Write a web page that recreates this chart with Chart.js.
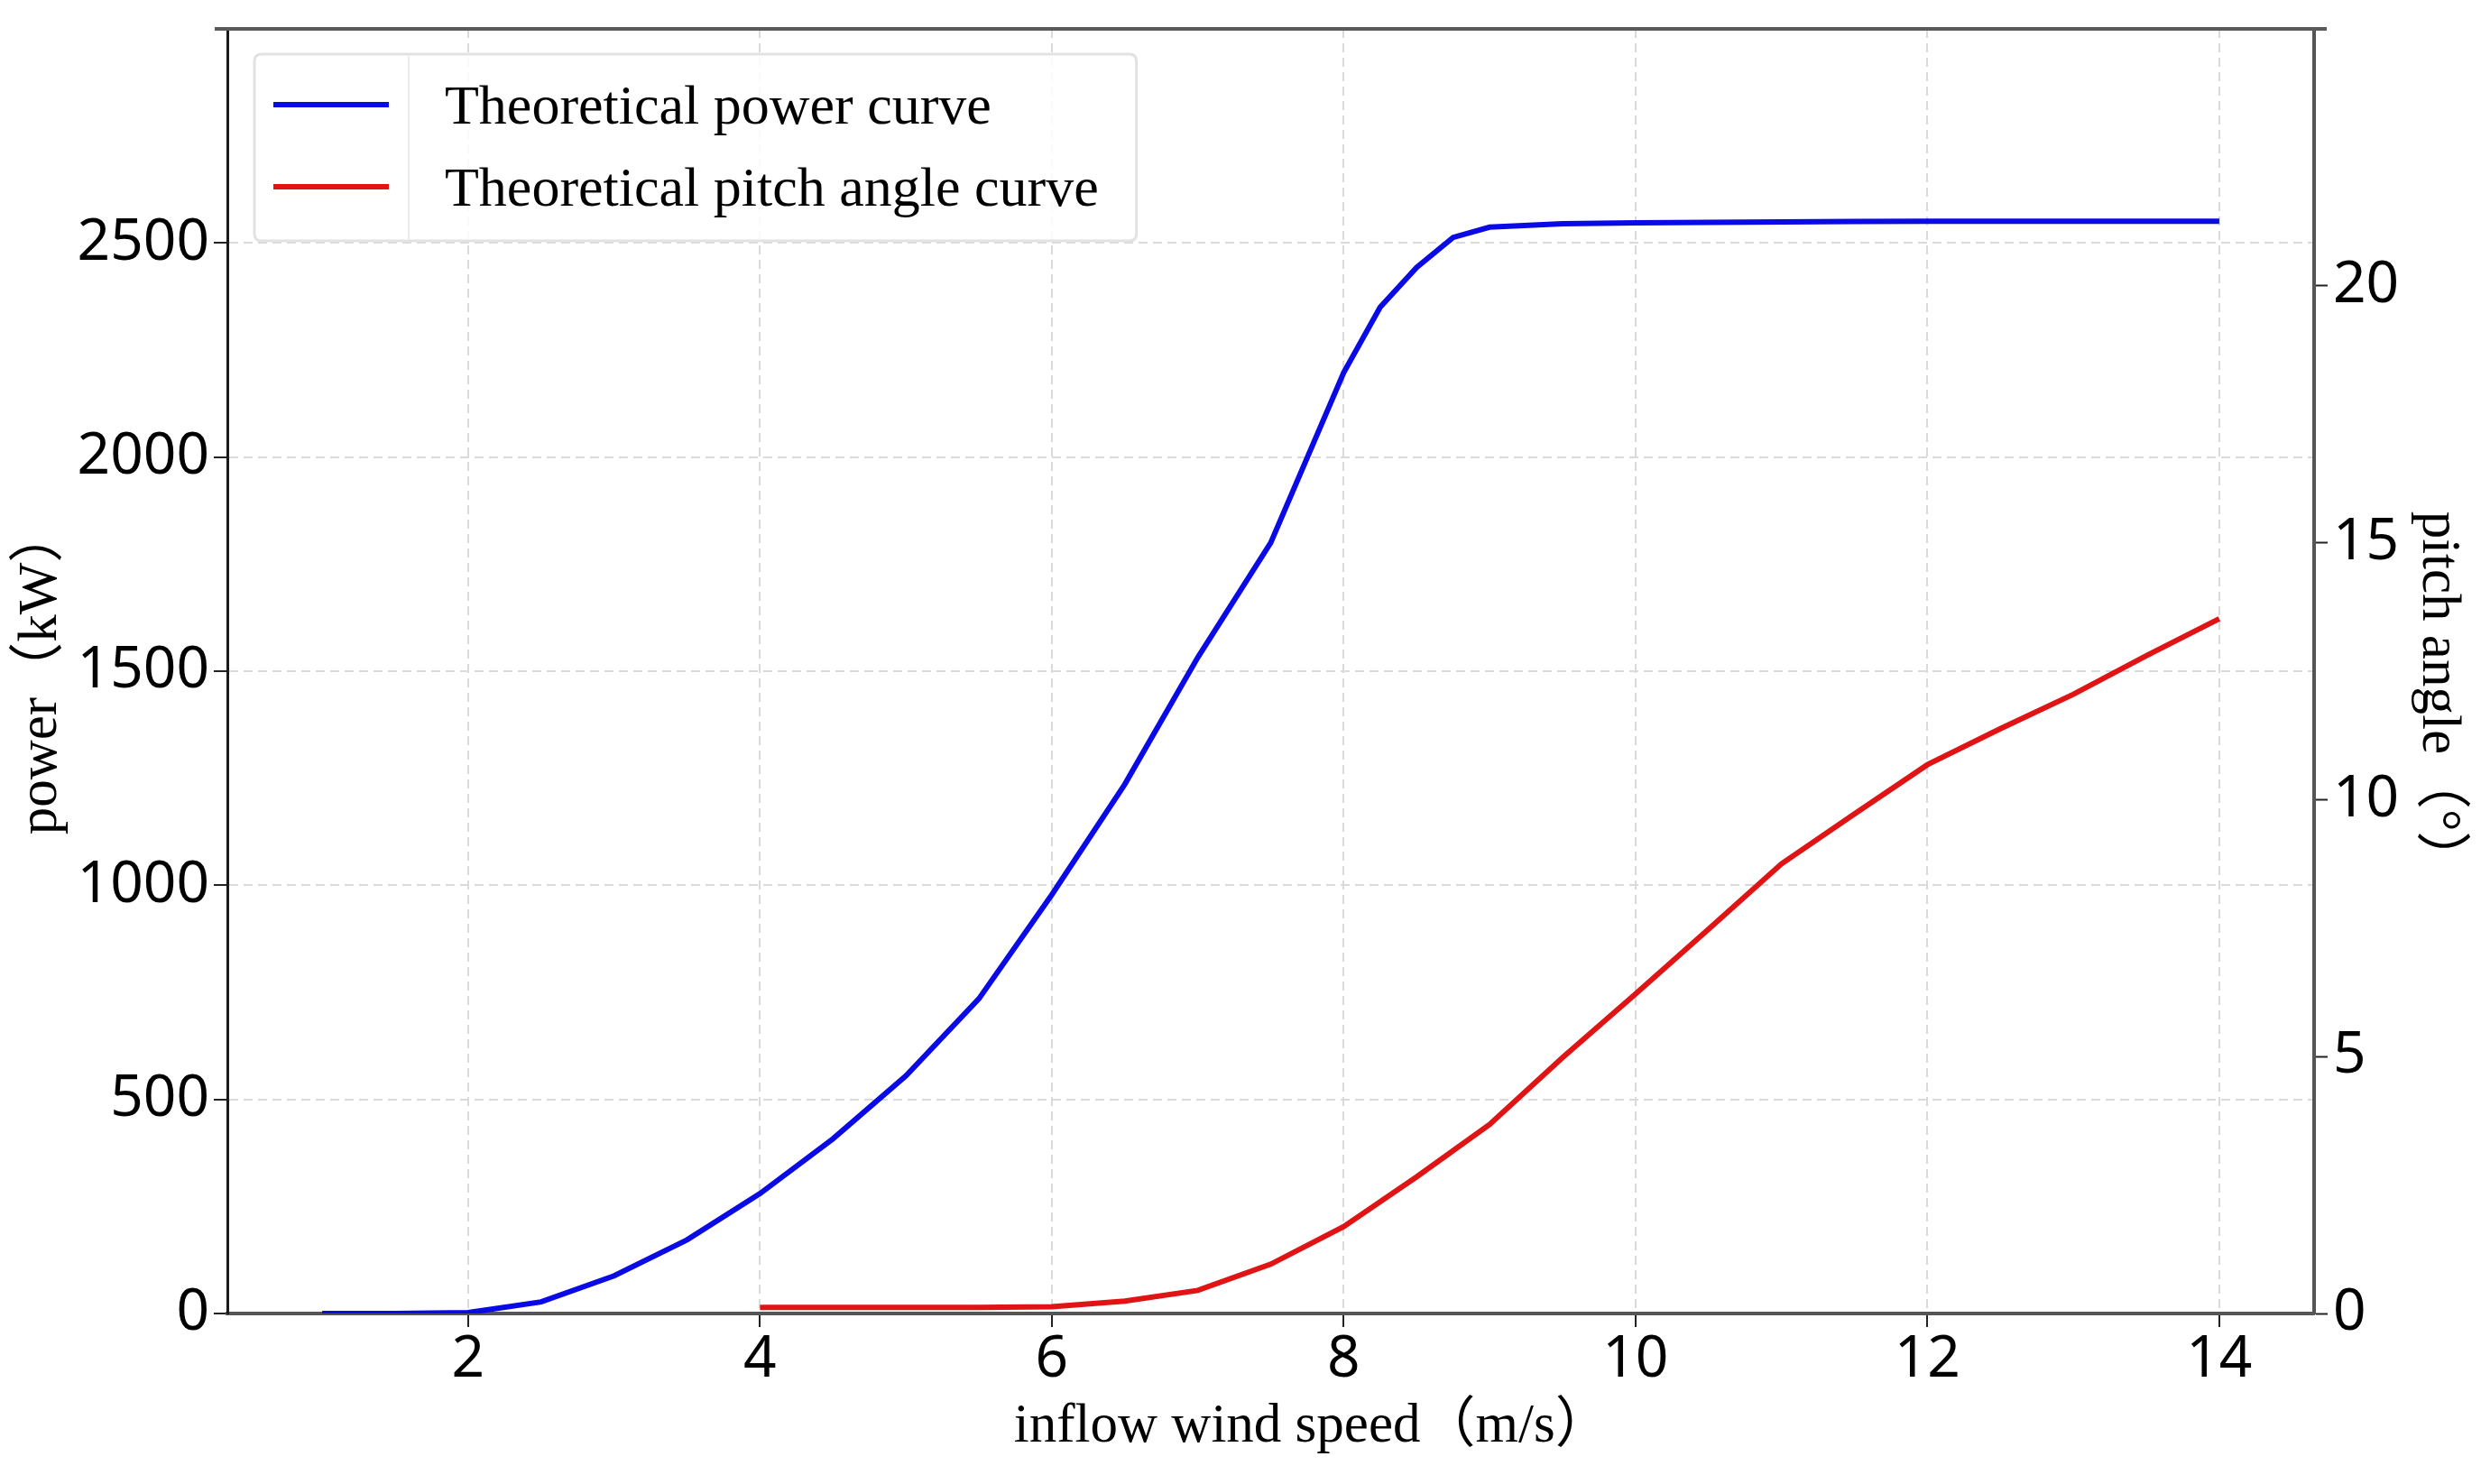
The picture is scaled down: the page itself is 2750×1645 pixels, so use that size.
<!DOCTYPE html>
<html>
<head>
<meta charset="utf-8">
<script src="https://cdn.jsdelivr.net/npm/chart.js@4.4.1/dist/chart.umd.min.js"></script>
<style>
  html, body { margin: 0; padding: 0; background: #ffffff; }
  #wrap { width: 2750px; height: 1645px; position: relative; }
</style>
</head>
<body>
<div id="wrap"><canvas id="c"></canvas></div>
<script>
// ---- data ----
const windSpeed = [1, 1.5, 2, 2.5, 3, 3.5, 4, 4.5, 5, 5.5, 6, 6.5, 7, 7.5, 8, 8.25, 8.5, 8.75, 9, 9.5, 10, 10.5, 11, 11.5, 12, 12.5, 13, 13.5, 14];
const powerKW   = [0, 0, 2, 27, 88, 172, 280, 408, 555, 735, 978, 1236, 1532, 1800, 2197, 2350, 2443, 2513, 2537, 2545, 2547, 2548, 2549, 2550, 2551, 2551, 2551, 2551, 2551];

const pitchWindSpeed = [4, 4.5, 5, 5.5, 6, 6.5, 7, 7.5, 8, 8.5, 9, 9.5, 10, 10.5, 11, 11.5, 12, 12.5, 13, 13.5, 14];
const pitchAngle     = [0.12, 0.12, 0.12, 0.12, 0.13, 0.24, 0.45, 0.96, 1.69, 2.66, 3.68, 4.98, 6.22, 7.48, 8.75, 9.72, 10.68, 11.38, 12.05, 12.80, 13.52];

const xTickValues     = [2, 4, 6, 8, 10, 12, 14];
const powerTickValues = [0, 500, 1000, 1500, 2000, 2500];
const pitchTickValues = [0, 5, 10, 15, 20];

const seriesLabels = ['Theoretical power curve', 'Theoretical pitch angle curve'];
const xTitle = '\u2003\u2002inflow wind speed（m/s）';
const yTitle = 'power（kW）';
const y1Title = '\u2003pitch angle（°）';

// ---- styling ----
const SERIF = "'Liberation Serif', 'Noto Sans CJK SC', serif";
const SANS = "'Noto Sans', 'DejaVu Sans', sans-serif";
const BLUE = '#0a0ae6';
const RED = '#e01414';
const GRID = '#dadada';

const tickFont = { family: SANS, size: 64, lineHeight: 1.1 };
const titleFont = { family: SERIF, size: 61, lineHeight: 1.2 };

function noPad(s) { s.paddingTop = 0; s.paddingBottom = 0; s.paddingLeft = 0; s.paddingRight = 0; }

const topSpine = {
  id: 'topSpine',
  afterDraw(chart) {
    const { ctx, chartArea } = chart;
    ctx.save();
    ctx.strokeStyle = '#5a5a5a';
    ctx.lineWidth = 4;
    ctx.beginPath();
    ctx.moveTo(chartArea.left - 14, chartArea.top);
    ctx.lineTo(chartArea.right + 14, chartArea.top);
    ctx.stroke();
    ctx.restore();
  }
};

const boxLegend = {
  id: 'boxLegend',
  afterDraw(chart) {
    const { ctx, chartArea } = chart;
    const x0 = chartArea.left + 30;
    const y0 = chartArea.top + 28;
    const fontSize = 62;
    ctx.save();
    ctx.font = fontSize + 'px ' + SERIF;
    let maxW = 0;
    chart.data.datasets.forEach(ds => { maxW = Math.max(maxW, ctx.measureText(ds.label).width); });
    const textX = x0 + 211;
    const w = (textX - x0) + maxW + 42;
    const h = 207;
    const r = 8;
    ctx.fillStyle = 'rgba(255,255,255,0.85)';
    ctx.strokeStyle = '#e2e2e2';
    ctx.lineWidth = 3;
    ctx.beginPath();
    ctx.moveTo(x0 + r, y0);
    ctx.lineTo(x0 + w - r, y0);
    ctx.quadraticCurveTo(x0 + w, y0, x0 + w, y0 + r);
    ctx.lineTo(x0 + w, y0 + h - r);
    ctx.quadraticCurveTo(x0 + w, y0 + h, x0 + w - r, y0 + h);
    ctx.lineTo(x0 + r, y0 + h);
    ctx.quadraticCurveTo(x0, y0 + h, x0, y0 + h - r);
    ctx.lineTo(x0, y0 + r);
    ctx.quadraticCurveTo(x0, y0, x0 + r, y0);
    ctx.closePath();
    ctx.fill();
    ctx.stroke();
    ctx.strokeStyle = '#ececec';
    ctx.lineWidth = 2;
    ctx.beginPath();
    ctx.moveTo(x0 + 171, y0 + 2);
    ctx.lineTo(x0 + 171, y0 + h - 2);
    ctx.stroke();
    chart.data.datasets.forEach((ds, i) => {
      const cy = y0 + 56 + i * 91;
      ctx.strokeStyle = ds.borderColor;
      ctx.lineWidth = 6;
      ctx.beginPath();
      ctx.moveTo(x0 + 21, cy);
      ctx.lineTo(x0 + 149, cy);
      ctx.stroke();
      ctx.fillStyle = '#000000';
      ctx.textBaseline = 'alphabetic';
      ctx.textAlign = 'left';
      ctx.fillText(ds.label, textX, cy + 21);
    });
    ctx.restore();
  }
};

function build() {
  const ctx = document.getElementById('c').getContext('2d');
  new Chart(ctx, {
    type: 'line',
    data: {
      datasets: [
        {
          label: seriesLabels[0],
          data: windSpeed.map((x, i) => ({ x: x, y: powerKW[i] })),
          borderColor: BLUE,
          backgroundColor: BLUE,
          borderWidth: 6,
          pointRadius: 0,
          tension: 0,
          yAxisID: 'y'
        },
        {
          label: seriesLabels[1],
          data: pitchWindSpeed.map((x, i) => ({ x: x, y: pitchAngle[i] })),
          borderColor: RED,
          backgroundColor: RED,
          borderWidth: 6,
          pointRadius: 0,
          tension: 0,
          yAxisID: 'y1'
        }
      ]
    },
    options: {
      responsive: true,
      maintainAspectRatio: false,
      devicePixelRatio: 1,
      animation: false,
      layout: { padding: { top: 32, left: 0, right: 0, bottom: 0 } },
      plugins: {
        legend: { display: false },
        tooltip: { enabled: false }
      },
      scales: {
        x: {
          type: 'linear',
          position: 'bottom',
          min: 0.35,
          max: 14.65,
          afterBuildTicks: s => { s.ticks = xTickValues.map(v => ({ value: v })); },
          afterFit: s => { s.height = 189; noPad(s); },
          grid: {
            color: GRID, lineWidth: 2,
            drawTicks: true, tickLength: 15, tickColor: '#222222', tickWidth: 2, tickBorderDash: []
          },
          border: { display: true, color: '#555555', width: 4, dash: [10, 6] },
          ticks: { font: tickFont, color: '#000000', padding: 2, maxRotation: 0, autoSkip: false, callback: v => String(v) },
          title: { display: true, text: xTitle, font: titleFont, color: '#000000', padding: { top: 0, bottom: 26 } }
        },
        y: {
          type: 'linear',
          position: 'left',
          min: 0,
          max: 3000,
          afterBuildTicks: s => { s.ticks = powerTickValues.map(v => ({ value: v })); },
          afterFit: s => { s.width = 252; noPad(s); },
          grid: {
            color: GRID, lineWidth: 2,
            drawTicks: true, tickLength: 15, tickColor: '#222222', tickWidth: 2, tickBorderDash: []
          },
          border: { display: true, color: '#1a1a1a', width: 3, dash: [10, 6] },
          ticks: { font: tickFont, color: '#000000', padding: 5, autoSkip: false, callback: v => String(v) },
          title: { display: true, text: yTitle, font: titleFont, color: '#000000', padding: { top: 9, bottom: 0 } }
        },
        y1: {
          type: 'linear',
          position: 'right',
          min: 0,
          max: 25,
          afterBuildTicks: s => { s.ticks = pitchTickValues.map(v => ({ value: v })); },
          afterFit: s => { s.width = 185; noPad(s); },
          grid: {
            drawOnChartArea: false,
            drawTicks: true, tickLength: 15, tickColor: '#222222', tickWidth: 2, tickBorderDash: []
          },
          border: { display: true, color: '#555555', width: 4 },
          ticks: { font: tickFont, color: '#000000', padding: 6, autoSkip: false, callback: v => String(v) },
          title: { display: true, text: y1Title, font: titleFont, color: '#000000', padding: { top: 11, bottom: 0 } }
        }
      }
    },
    plugins: [topSpine, boxLegend]
  });
}

const fontLoads = [
  document.fonts.load("60px 'Liberation Serif'"),
  document.fonts.load("64px 'Noto Sans'"),
  document.fonts.load("60px 'Noto Sans CJK SC'", '（）')
];
Promise.all(fontLoads).then(build, build);
</script>
</body>
</html>
